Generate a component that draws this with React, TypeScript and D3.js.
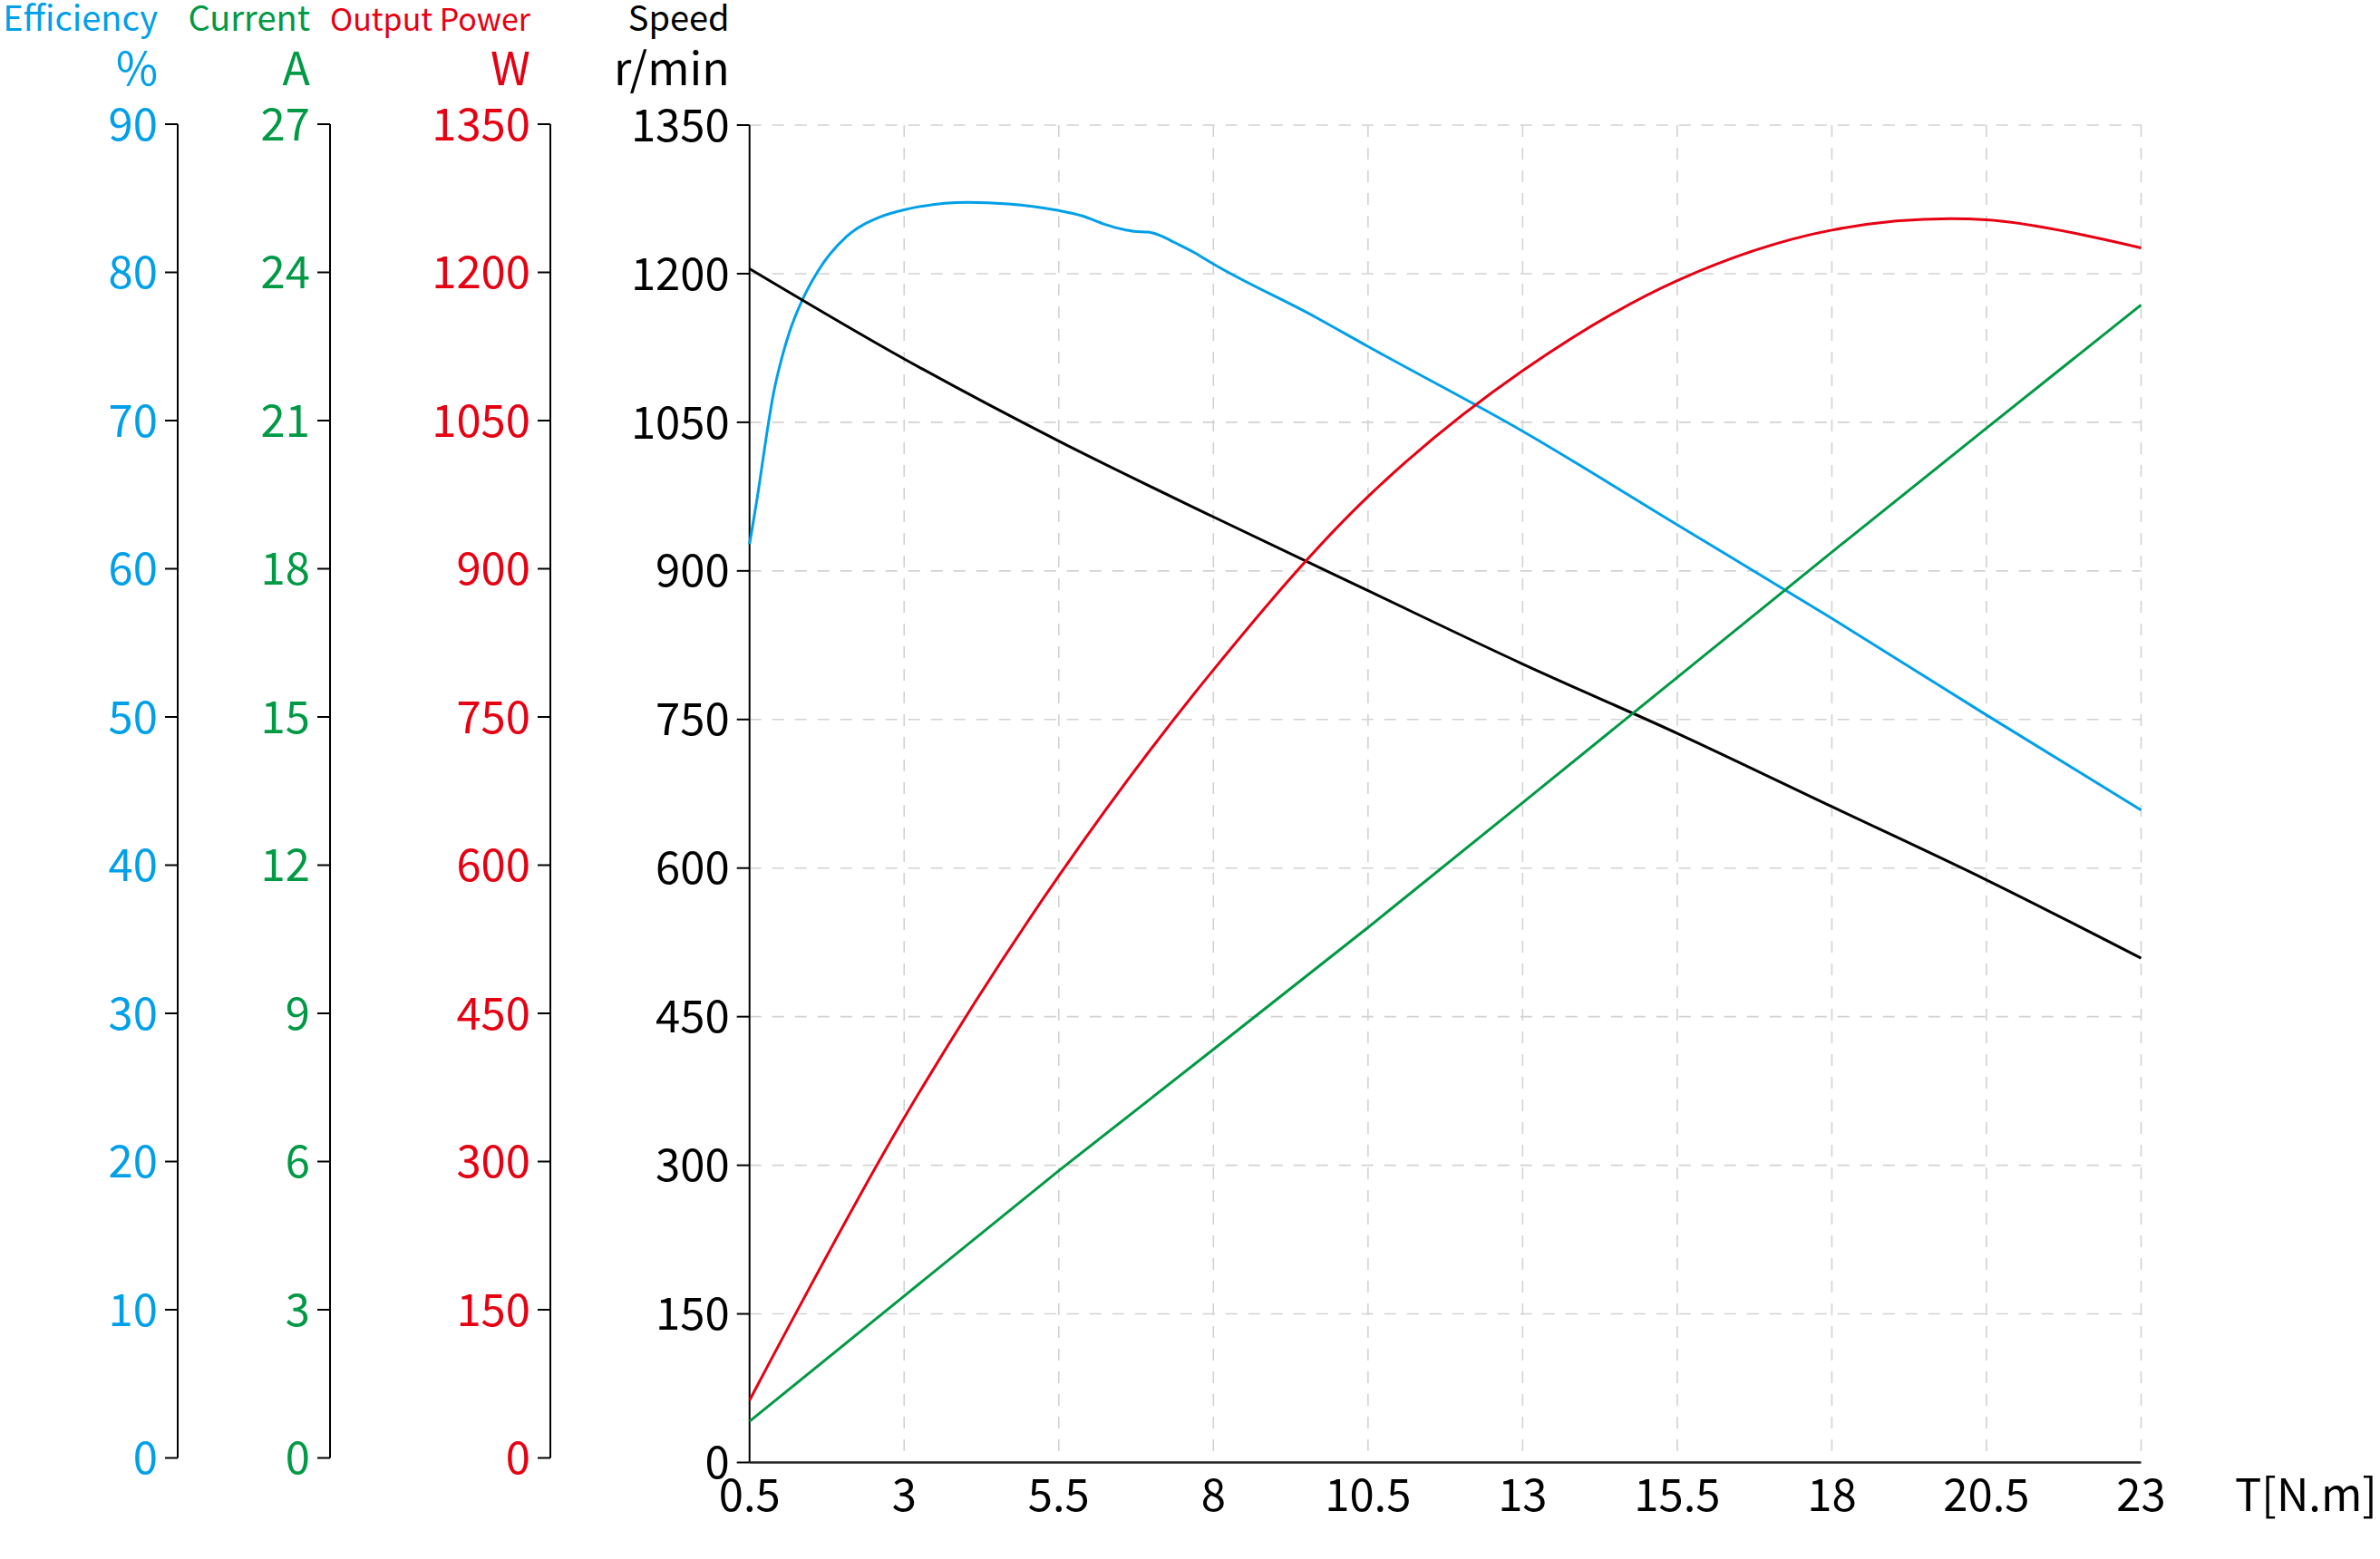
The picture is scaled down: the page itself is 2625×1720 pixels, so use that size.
import React from 'react';
import * as d3 from 'd3';

// ---- data ----
const torque = [0.5, 3, 5.5, 8, 10.5, 13, 15.5, 18, 20.5, 23];
const speed = [1205, 1114, 1031, 954.5, 880, 806, 736, 662, 588, 509];
const current = [0.83, 3.36, 5.89, 8.34, 10.8, 13.32, 15.85, 18.38, 20.88, 23.37];
const power = [62.7, 348, 592, 800, 975, 1102, 1193, 1244, 1254.5, 1226];
const effTorque = [0.5, 0.65, 0.77, 0.89, 1.02, 1.14, 1.35, 1.61, 2.07, 2.6, 3, 4.03, 4.68, 5.5, 5.87, 6.26, 6.52, 6.72, 6.95, 7.15, 7.37, 7.7, 8, 9.64, 10.5, 13, 15.5, 18, 20.5, 23];
const efficiency = [61.8, 65.6, 69.0, 72.0, 74.3, 76.0, 78.2, 80.2, 82.5, 83.8, 84.3, 84.8, 84.7, 84.25, 83.9, 83.3, 83.0, 82.85, 82.8, 82.55, 82.1, 81.4, 80.65, 77.1, 75.1, 69.4, 63.1, 56.8, 50.3, 43.9];

const xTicks = [0.5, 3, 5.5, 8, 10.5, 13, 15.5, 18, 20.5, 23];
const effTicks = [0, 10, 20, 30, 40, 50, 60, 70, 80, 90];
const currentTicks = [0, 3, 6, 9, 12, 15, 18, 21, 24, 27];
const powerTicks = [0, 150, 300, 450, 600, 750, 900, 1050, 1200, 1350];
const speedTicks = [0, 150, 300, 450, 600, 750, 900, 1050, 1200, 1350];

const BLUE = '#00a0e9';
const GREEN = '#009944';
const RED = '#e60012';
const BLACK = '#000000';
const FONT = "'Noto Sans CJK SC', 'Noto Sans', sans-serif";

const W = 2625;
const H = 1720;
const X0 = 826.7;
const X1 = 2361.5;
const YB = 1613.5;
const YT = 138;

const x = d3.scaleLinear().domain([0.5, 23]).range([X0, X1]);
const ySpeed = d3.scaleLinear().domain([0, 1350]).range([YB, YT]);
const yPower = d3.scaleLinear().domain([0, 1350]).range([YB, YT]);
const yCurrent = d3.scaleLinear().domain([0, 27]).range([YB, YT]);
const yEff = d3.scaleLinear().domain([0, 90]).range([YB, YT]);

const LB = 1608.5;
const LT = 137;

type AxisProps = {
  ax: number;
  ticks: number[];
  domainMax: number;
  color: string;
  title: string;
  titleSize: number;
  unit: string;
  bottom: number;
  top: number;
};

function LeftAxis({ ax, ticks, domainMax, color, title, titleSize, unit, bottom, top }: AxisProps) {
  const s = d3.scaleLinear().domain([0, domainMax]).range([bottom, top]);
  const labelX = ax - 22;
  return (
    <g>
      <line x1={ax} x2={ax} y1={s(0)} y2={s(domainMax)} stroke={BLACK} strokeWidth={2} />
      {ticks.map((t) => (
        <g key={t}>
          <line x1={ax - 14} x2={ax} y1={s(t)} y2={s(t)} stroke={BLACK} strokeWidth={2} />
          <text x={labelX} y={s(t)} dy="0.36em" textAnchor="end" fill={color} fontSize={49} fontFamily={FONT}>
            {t}
          </text>
        </g>
      ))}
      <text x={labelX} y={34} textAnchor="end" fill={color} fontSize={titleSize} fontFamily={FONT}>
        {title}
      </text>
      <text x={labelX} y={94} textAnchor="end" fill={color} fontSize={50} fontFamily={FONT}>
        {unit}
      </text>
    </g>
  );
}

export default function App() {
  const mk = (ys: d3.ScaleLinear<number, number>, curve: d3.CurveFactory) =>
    d3
      .line<[number, number]>()
      .x((d) => x(d[0]))
      .y((d) => ys(d[1]))
      .curve(curve);

  const speedPath = mk(ySpeed, d3.curveCatmullRom.alpha(0.5))(torque.map((t, i) => [t, speed[i]]));
  const currentPath = mk(yCurrent, d3.curveLinear)(torque.map((t, i) => [t, current[i]]));
  const powerPath = mk(yPower, d3.curveCatmullRom.alpha(0.5))(torque.map((t, i) => [t, power[i]]));
  const effPath = mk(yEff, d3.curveMonotoneX)(effTorque.map((t, i) => [t, efficiency[i]]));

  return (
    <svg
      width={W}
      height={H}
      style={{ position: 'absolute', left: 0, top: 0, display: 'block', background: '#fff' }}
    >
      <rect x={0} y={0} width={W} height={H} fill="#fff" />
      {/* grid */}
      <g stroke="#d2d2d2" strokeWidth={1.6} strokeDasharray="13 12" fill="none">
        {xTicks.slice(1).map((t) => (
          <line key={'v' + t} x1={x(t)} x2={x(t)} y1={YT} y2={YB} />
        ))}
        {speedTicks.slice(1).map((t) => (
          <line key={'h' + t} x1={X0} x2={X1} y1={ySpeed(t)} y2={ySpeed(t)} />
        ))}
      </g>

      {/* left axes */}
      <LeftAxis ax={196} ticks={effTicks} domainMax={90} color={BLUE} title="Efficiency" titleSize={38} unit="%" bottom={LB} top={LT} />
      <LeftAxis ax={364} ticks={currentTicks} domainMax={27} color={GREEN} title="Current" titleSize={38} unit="A" bottom={LB} top={LT} />
      <LeftAxis ax={607} ticks={powerTicks} domainMax={1350} color={RED} title="Output Power" titleSize={34} unit="W" bottom={LB} top={LT} />
      <LeftAxis ax={X0} ticks={speedTicks} domainMax={1350} color={BLACK} title="Speed" titleSize={38} unit="r/min" bottom={YB} top={YT} />

      {/* x axis */}
      <line x1={X0} x2={X1} y1={YB} y2={YB} stroke="#222" strokeWidth={2.5} />
      {xTicks.map((t) => (
        <text key={'xl' + t} x={x(t)} y={1667} textAnchor="middle" fill={BLACK} fontSize={49} fontFamily={FONT}>
          {t}
        </text>
      ))}
      <text x={2465} y={1667} textAnchor="start" fill={BLACK} fontSize={49} fontFamily={FONT}>
        T[N.m]
      </text>

      {/* curves */}
      <path d={effPath || ''} fill="none" stroke={BLUE} strokeWidth={3} />
      <path d={speedPath || ''} fill="none" stroke={BLACK} strokeWidth={3} />
      <path d={currentPath || ''} fill="none" stroke={GREEN} strokeWidth={3} />
      <path d={powerPath || ''} fill="none" stroke={RED} strokeWidth={3} />
    </svg>
  );
}
